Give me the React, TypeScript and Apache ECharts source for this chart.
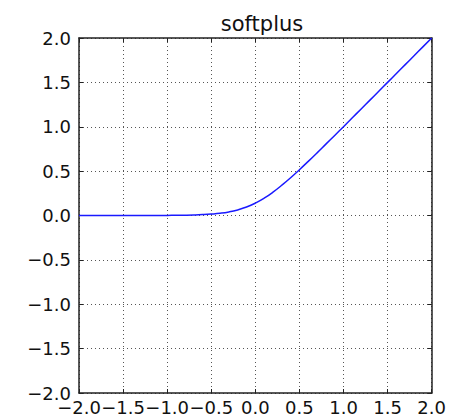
import React, { useEffect, useRef } from "react";
import * as echarts from "echarts";

const titleText = "softplus";
const xValues = [
  -2.0, -1.9, -1.8, -1.7, -1.6, -1.5, -1.4, -1.3, -1.2, -1.1, -1.0, -0.9, -0.8, -0.7, -0.6, -0.5,
  -0.4, -0.3, -0.2, -0.1, 0.0, 0.1, 0.2, 0.3, 0.4, 0.5, 0.6, 0.7, 0.8, 0.9, 1.0, 1.1, 1.2, 1.3,
  1.4, 1.5, 1.6, 1.7, 1.8, 1.9, 2.0,
];
const yValues = [
  0.0001, 0.0001, 0.0001, 0.0002, 0.0003, 0.0004, 0.0005, 0.0006, 0.0008, 0.001, 0.0013, 0.0022,
  0.0036, 0.006, 0.0099, 0.016, 0.025, 0.04, 0.063, 0.095, 0.139, 0.195, 0.263, 0.341, 0.425,
  0.516, 0.61, 0.706, 0.804, 0.902, 1.001, 1.101, 1.2, 1.3, 1.4, 1.5, 1.6, 1.7, 1.8, 1.9, 2.0,
];
const axisMin = -2;
const axisMax = 2;
const tickStep = 0.5;

const fmt = (v: number) => {
  const s = Math.abs(v).toFixed(1);
  return v < -1e-9 ? "\u2212" + s : s;
};

export default function App() {
  const ref = useRef<HTMLDivElement>(null);
  useEffect(() => {
    if (!ref.current) return;
    const chart = echarts.init(ref.current, null, { renderer: "svg" });
    const font = "DejaVu Sans";
    const gridLine = {
      show: true,
      lineStyle: { color: "#555", width: 1, type: [1, 3] as any },
    };
    const axisLine = { show: true, onZero: false, lineStyle: { color: "#222", width: 1.5 } };
    const tick = { show: true, inside: true, length: 4, lineStyle: { color: "#222" } };
    const data = xValues.map((x, i) => [x, yValues[i]]);
    chart.setOption({
      animation: false,
      title: {
        text: titleText,
        left: 257,
        top: 8,
        textAlign: "center",
        textStyle: { fontFamily: font, fontSize: 21, fontWeight: "normal", color: "#111" },
      },
      grid: { left: 79, right: 14, top: 38, bottom: 25 },
      xAxis: [
        {
          type: "value",
          min: axisMin,
          max: axisMax,
          interval: tickStep,
          axisLine,
          axisTick: tick,
          splitLine: gridLine,
          axisLabel: {
            formatter: fmt,
            fontFamily: font,
            fontSize: 18,
            lineHeight: 14,
            color: "#111",
            margin: 7,
            showMinLabel: true,
            showMaxLabel: true,
            hideOverlap: false,
          },
        },
        {
          type: "value",
          position: "top",
          min: axisMin,
          max: axisMax,
          interval: tickStep,
          axisLine,
          axisTick: tick,
          splitLine: { show: false },
          axisLabel: { show: false },
        },
      ],
      yAxis: [
        {
          type: "value",
          min: axisMin,
          max: axisMax,
          interval: tickStep,
          axisLine,
          axisTick: tick,
          splitLine: gridLine,
          axisLabel: {
            formatter: fmt,
            fontFamily: font,
            fontSize: 18,
            lineHeight: 14,
            color: "#111",
            margin: 8,
            showMinLabel: true,
            showMaxLabel: true,
          },
        },
        {
          type: "value",
          position: "right",
          min: axisMin,
          max: axisMax,
          interval: tickStep,
          axisLine,
          axisTick: tick,
          splitLine: { show: false },
          axisLabel: { show: false },
        },
      ],
      series: [
        {
          type: "line",
          data,
          showSymbol: false,
          smooth: true,
          lineStyle: { color: "#1a1aff", width: 1.5 },
          xAxisIndex: 0,
          yAxisIndex: 0,
        },
      ],
    });
    return () => chart.dispose();
  }, []);
  return <div ref={ref} style={{ width: 449, height: 418, position: "absolute", left: 0, top: 0 }} />;
}
